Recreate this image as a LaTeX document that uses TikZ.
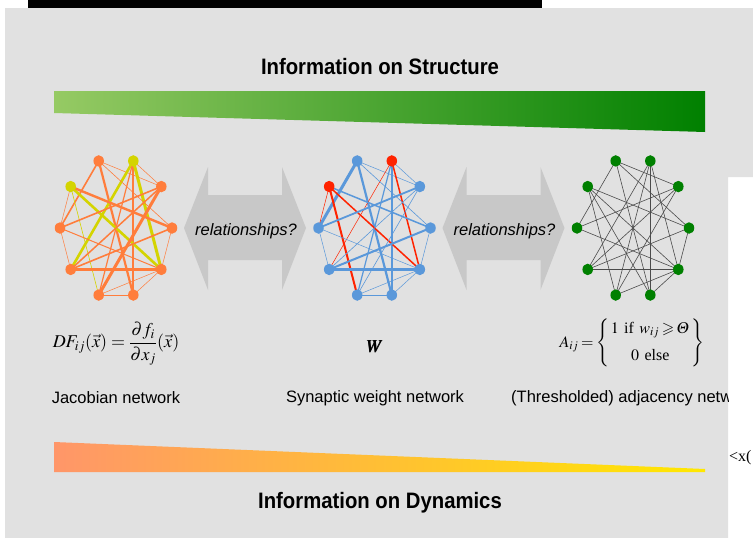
\documentclass[tikz,border=0pt]{standalone}
\usepackage{amsmath,amssymb}
\usepackage{mathptmx}
\usepackage{bm}
\usepackage[no-math]{fontspec}
\setmainfont{Liberation Sans}
\newfontfamily\tnr{Liberation Serif}
\usetikzlibrary{shapes.geometric}
\pgfdeclarelayer{front}
\pgfsetlayers{main,front}

\definecolor{panel}{RGB}{225,225,225}
\definecolor{arrowgray}{RGB}{200,200,200}
\definecolor{jorange}{RGB}{255,125,60}
\definecolor{jyellow}{RGB}{212,212,0}
\definecolor{wblue}{RGB}{90,152,218}
\definecolor{wred}{RGB}{255,35,0}
\definecolor{agreen}{RGB}{0,128,0}
\definecolor{aline}{RGB}{75,75,75}
\definecolor{sgreenL}{RGB}{150,202,100}
\definecolor{sgreenR}{RGB}{0,128,0}
\definecolor{dorange}{RGB}{255,150,105}
\definecolor{dyellow}{RGB}{255,232,0}

\tikzset{
  vtx/.style={ellipse, minimum width=10.5pt, minimum height=11.5pt, inner sep=0pt, draw=none},
  headline/.style={font=\fontsize{20.3}{24}\selectfont\bfseries, yscale=1.1, transform shape},
  caption/.style={font=\fontsize{16.5}{20}\selectfont},
  relation/.style={font=\fontsize{16.5}{20}\selectfont\itshape},
  formula/.style={font=\fontsize{18}{22}\selectfont, inner sep=1pt},
  dblarrow/.style={fill=arrowgray, draw=none}
}

\begin{document}
\begin{tikzpicture}[x=1pt,y=-1pt]
  \useasboundingbox (0,0) rectangle (753,538);
  \fill[white] (0,0) rectangle (753,538);

  % panel and top strip
  \fill[panel] (5,8) -- (753,8) -- (753,177) -- (728,177) -- (728,538) -- (5,538) -- cycle;
  \fill[black] (28,0) rectangle (542,8);

  % wedge bars
  \shade[left color=sgreenL, right color=sgreenR] (54,91) -- (705,91) -- (705,132) -- (54,113) -- cycle;
  \shade[left color=dorange, right color=dyellow] (54,442) -- (705,469) -- (705,472) -- (54,472) -- cycle;

  \node[headline] (tstruct) at (380,67) {Information on Structure};
  \node[headline] (tdyn) at (380,503) {Information on Dynamics};

  % double arrows
  \foreach \s/\nm in {0/ra, 258.5/rb} {
    \fill[dblarrow] (184+\s,228) -- (208+\s,167) -- (208+\s,195) -- (282+\s,195) -- (282+\s,167)
      -- (306+\s,228) -- (282+\s,290) -- (282+\s,260) -- (208+\s,260) -- (208+\s,290) -- cycle;
    \node[relation] (\nm) at (246+\s,231) {relationships?};
  }

  % vertices of the three networks (drawn in front of their edges)
  \begin{pgfonlayer}{front}
  \foreach \nm/\ang/\col in {D/0/jorange,C/36/jorange,B/72/jyellow,A/108/jorange,J/144/jyellow,
      I/180/jorange,H/216/jorange,G/252/jorange,F/288/jorange,E/324/jorange}
    \node[vtx, fill=\col] (L\nm) at ({116+56*cos(\ang)},{228-70.5*sin(\ang)}) {};
  \foreach \nm/\ang/\col in {D/0/wblue,C/36/wblue,B/72/wred,A/108/wblue,J/144/wred,
      I/180/wblue,H/216/wblue,G/252/wblue,F/288/wblue,E/324/wblue}
    \node[vtx, fill=\col] (M\nm) at ({374.5+56*cos(\ang)},{228-70.5*sin(\ang)}) {};
  \foreach \nm/\ang in {D/0,C/36,B/72,A/108,J/144,I/180,H/216,G/252,F/288,E/324}
    \node[vtx, fill=agreen] (R\nm) at ({633+56*cos(\ang)},{228-70.5*sin(\ang)}) {};
  \end{pgfonlayer}

  % Jacobian network edges
  \foreach \a/\b/\w/\c in {A/I/1.6/jorange, A/F/2.2/jorange, A/C/0.5/jorange, B/C/0.5/jorange,
      B/F/2.0/jorange, B/E/3.0/jyellow, B/H/2.6/jyellow, B/G/1.2/jorange, J/E/2.6/jyellow,
      J/G/0.6/jyellow, J/I/0.5/jorange, J/D/2.4/jorange, I/C/1.6/jorange, I/E/1.0/jorange,
      I/H/0.5/jorange, H/E/2.6/jorange, H/D/1.6/jorange, H/C/1.5/jorange, G/C/3.0/jorange,
      G/E/0.5/jorange, F/E/0.5/jorange, F/G/0.5/jorange, D/E/0.5/jorange, A/D/0.6/jorange}
    \draw[line width=\w pt, color=\c] (L\a.center) -- (L\b.center);

  % synaptic weight network edges
  \foreach \a/\b/\w/\c in {A/I/3.0/wblue, A/F/2.2/wblue, A/C/0.5/wblue, B/C/0.5/wblue,
      B/F/1.8/wblue, B/E/1.5/wred, B/H/0.5/wred, B/G/1.2/wblue, J/E/1.5/wred,
      J/G/2.0/wred, J/I/0.5/wred, J/D/1.5/wblue, I/C/1.8/wblue, I/E/0.5/wblue,
      I/H/0.5/wblue, H/E/2.5/wblue, H/D/2.0/wblue, H/C/0.6/wblue, G/C/0.6/wblue,
      G/E/0.5/wblue, F/E/0.5/wblue, F/G/0.5/wblue, D/E/0.5/wblue, A/D/0.6/wblue}
    \draw[line width=\w pt, color=\c] (M\a.center) -- (M\b.center);

  % thresholded adjacency network edges
  \foreach \a/\b in {A/I, A/F, A/C, B/F, B/E, B/H, B/G, J/E, J/G, J/D, I/C, I/E,
      H/E, H/D, H/C, G/C, G/E, F/E, D/E, A/D, J/F}
    \draw[line width=0.6pt, color=aline] (R\a.center) -- (R\b.center);

  % formulas
  \node[formula] (fjac) at (116,344) {$DF_{ij}(\vec{x})=\dfrac{\partial f_i}{\partial x_j}(\vec{x})$};
  \node[formula] (fw) at (375,347) {$\bm{W}$};
  \node[formula, font=\fontsize{16}{20}\selectfont] (fadj) at (632,343) {$\thickmuskip=3mu
      A_{ij}=\left\{\begin{array}{@{\,}c@{\,}}
      1\;\;\mbox{\tnr if}\;\;w_{ij}\geqslant\varTheta\\[7pt] 0\;\;\mbox{\tnr else}\end{array}\right\}$};

  % captions
  \node[caption] (cjac) at (116,398) {Jacobian network};
  \node[caption] (cw) at (375,398) {Synaptic weight network};
  \begin{scope}
    \clip (0,0) rectangle (728,538);
    \node[caption, anchor=west, inner sep=0pt] (cadj) at (511,398) {(Thresholded) adjacency netw};
  \end{scope}

  \node[font=\fontsize{16}{19}\selectfont\tnr, anchor=west, inner sep=0pt] (xfrag) at (729,458) {<x(};
\end{tikzpicture}
\end{document}
